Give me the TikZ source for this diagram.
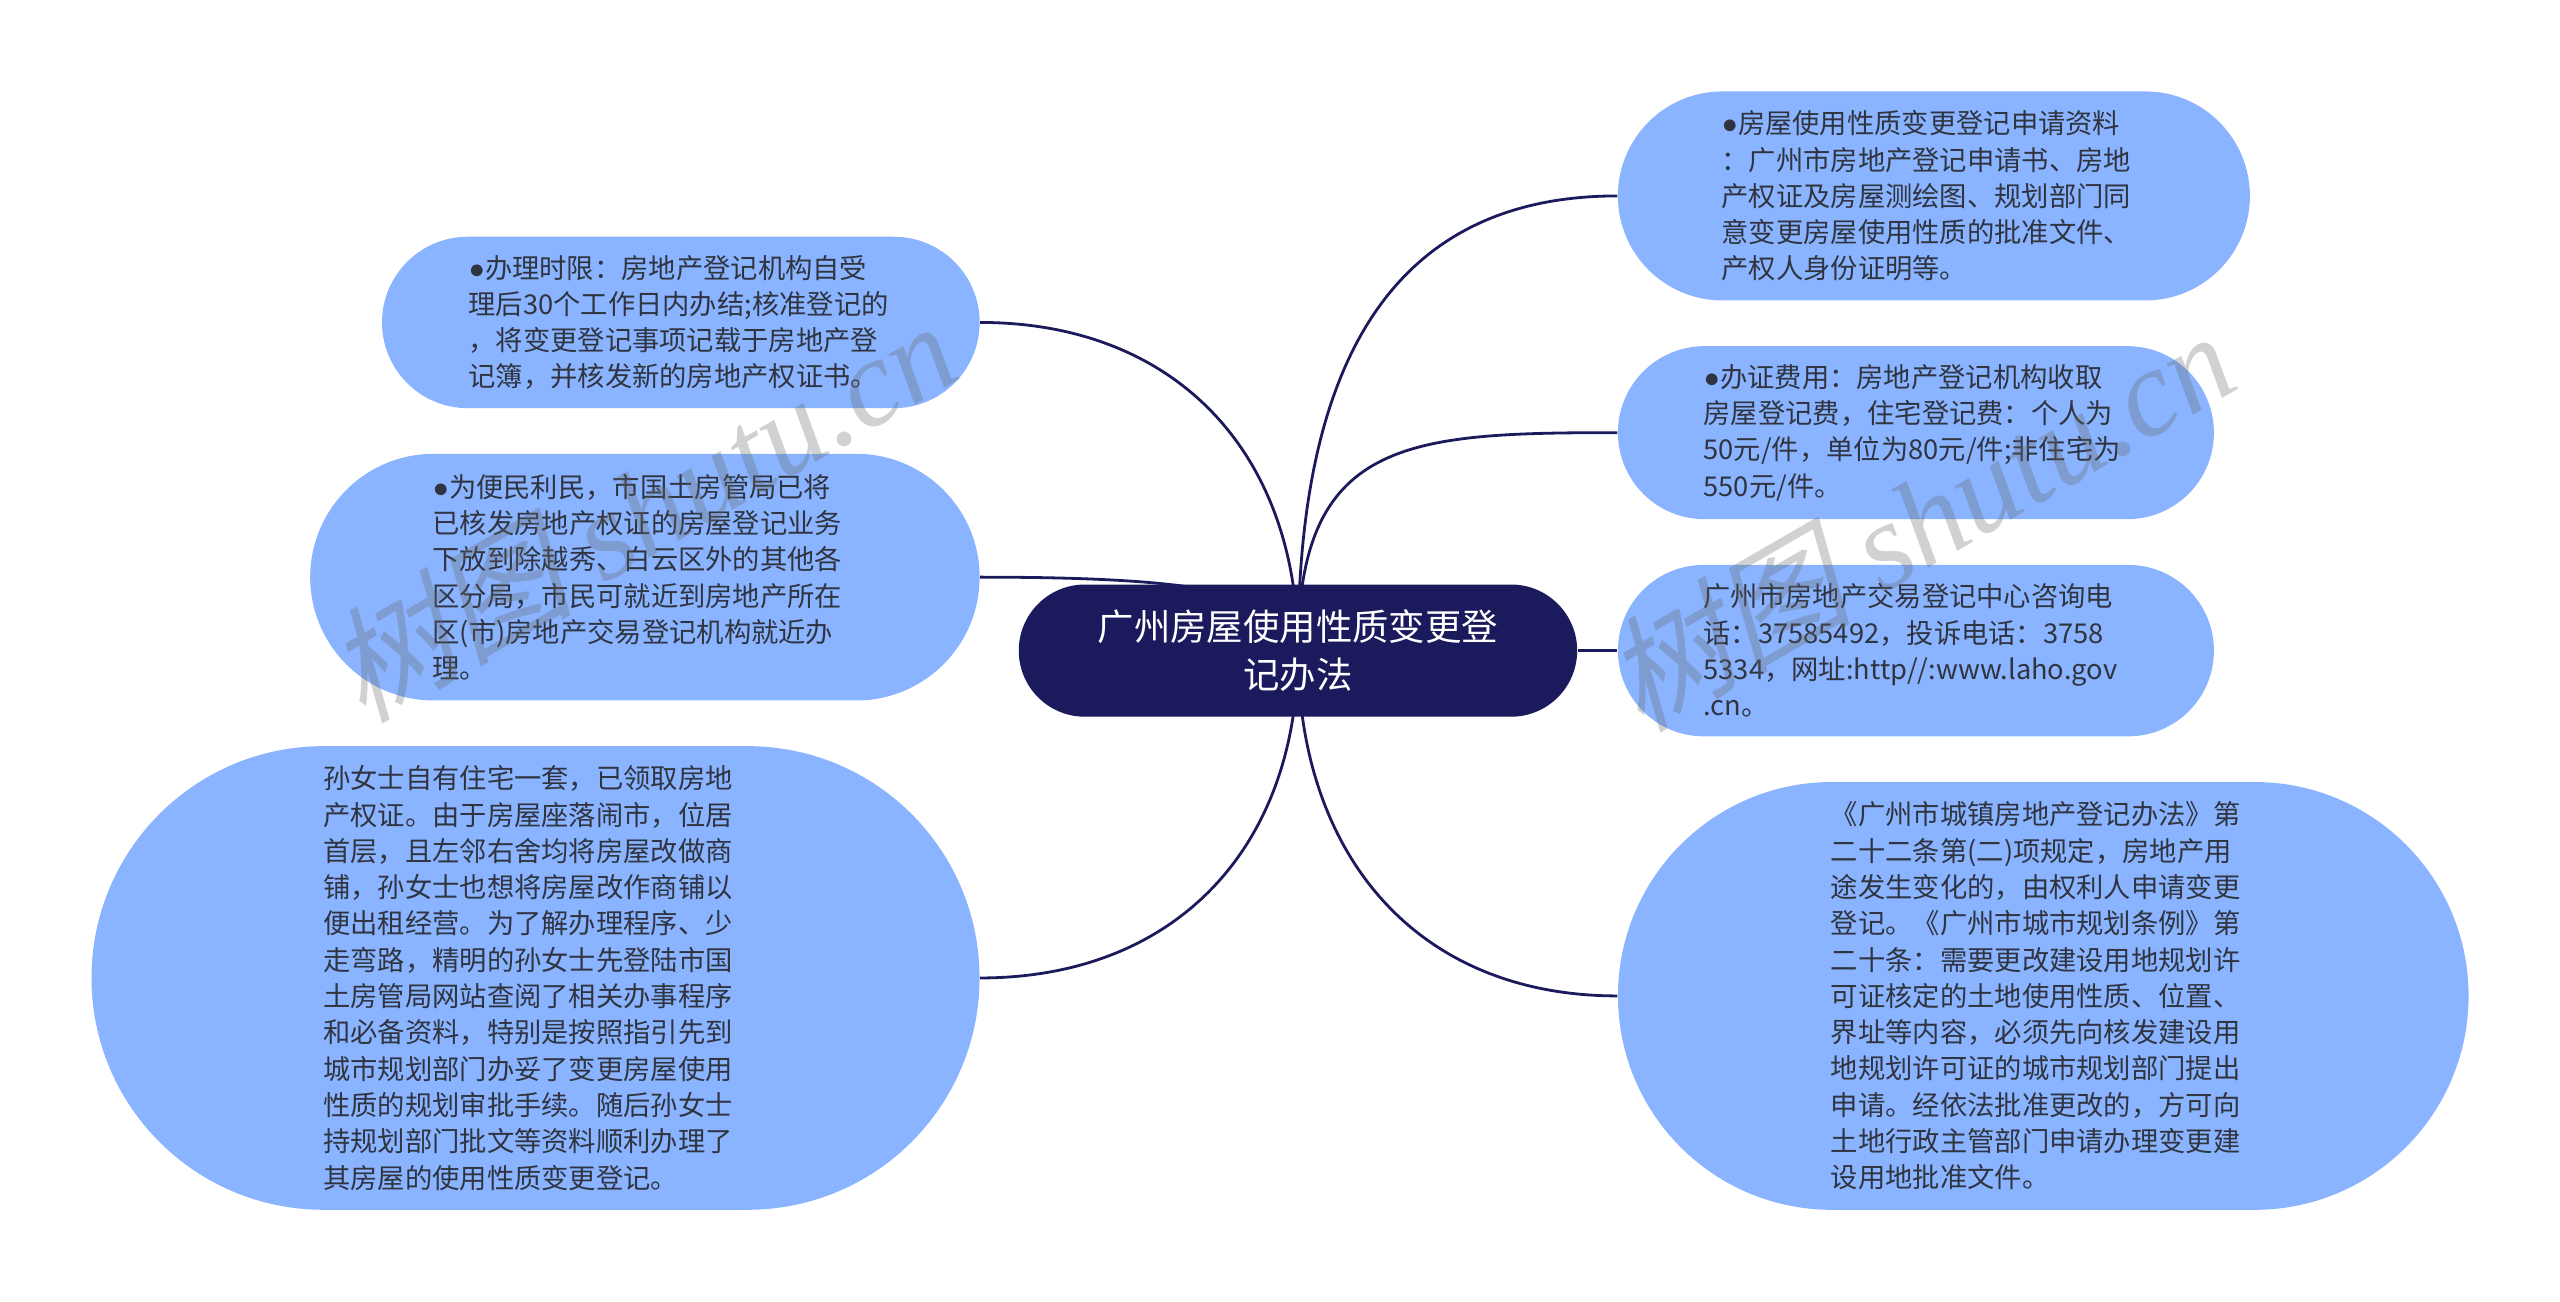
\documentclass[tikz,border=0pt]{standalone}
\usepackage{fontspec}
\setmainfont{Noto Sans CJK SC}
\newfontfamily\dotfont{Liberation Sans}
\newfontfamily\markcjk[FakeSlant=0.25]{Noto Sans CJK SC}
\newfontfamily\marklat{Liberation Serif Italic}
\usetikzlibrary{shapes.misc,backgrounds}
\definecolor{navy}{HTML}{1A1A5C}
\definecolor{bubblefill}{HTML}{8AB4FF}
\definecolor{bodytext}{HTML}{2F3440}
\newcommand{\bul}{{\dotfont ●}}
\newcommand{\dou}{\symbol{"FF0C}}
\newcommand{\mao}{\symbol{"FF1A}}

\begin{document}
\begin{tikzpicture}[x=0.8163pt,y=-0.8163pt,semithick]
   \tikzstyle{bubble}=[rounded rectangle,fill=bubblefill,text=bodytext,inner sep=0pt,
     text width=212.3pt,align=left,font=\fontsize{13.65}{18.15}\selectfont]
   \tikzstyle{topic}=[rounded rectangle,fill=navy,text=white,inner sep=0pt,
     text width=212pt,align=center,font=\fontsize{18.2}{23.7}\selectfont]
   \tikzstyle{link}=[draw=navy,line width=1.4pt]
   \tikzstyle{stamp}=[text=black!60,opacity=0.3,rotate=30,inner sep=0pt]
   \useasboundingbox (0,0) rectangle (1568,797);

   \node[topic,minimum width=279.2pt,minimum height=66.1pt] (title) at (795,398.5)
     {广州房屋使用性质变更登\\记办法};

   \node[bubble,minimum width=298.8pt,minimum height=85.7pt] (limit) at (417,197.5)
     {\bul 办理时限\mao 房地产登记机构自受\\理后30个工作日内办结;核准登记的\\\dou 将变更登记事项记载于房地产登\\记簿\dou 并核发新的房地产权证书。};
   \node[bubble,minimum width=334.7pt,minimum height=123.3pt] (local) at (395,353.5)
     {\bul 为便民利民\dou 市国土房管局已将\\已核发房地产权证的房屋登记业务\\下放到除越秀、白云区外的其他各\\区分局\dou 市民可就近到房地产所在\\区(市)房地产交易登记机构就近办\\理。};
   \node[bubble,minimum width=444pt,minimum height=231.8pt] (case) at (328,599)
     {孙女士自有住宅一套\dou 已领取房地\\产权证。由于房屋座落闹市\dou 位居\\首层\dou 且左邻右舍均将房屋改做商\\铺\dou 孙女士也想将房屋改作商铺以\\便出租经营。为了解办理程序、少\\走弯路\dou 精明的孙女士先登陆市国\\土房管局网站查阅了相关办事程序\\和必备资料\dou 特别是按照指引先到\\城市规划部门办妥了变更房屋使用\\性质的规划审批手续。随后孙女士\\持规划部门批文等资料顺利办理了\\其房屋的使用性质变更登记。};
   \node[bubble,minimum width=316pt,minimum height=104.5pt] (docs) at (1184.5,120)
     {\bul 房屋使用性质变更登记申请资料\\\mao 广州市房地产登记申请书、房地\\产权证及房屋测绘图、规划部门同\\意变更房屋使用性质的批准文件、\\产权人身份证明等。};
   \node[bubble,minimum width=298pt,minimum height=86.5pt] (fees) at (1173.5,265)
     {\bul 办证费用\mao 房地产登记机构收取\\房屋登记费\dou 住宅登记费\mao 个人为\\50元/件\dou 单位为80元/件;非住宅为\\550元/件。};
   \node[bubble,minimum width=298pt,minimum height=85.7pt] (phone) at (1173.5,398.5)
     {广州市房地产交易登记中心咨询电\\话\mao 37585492\dou 投诉电话\mao 3758\\5334\dou 网址:http//:www.laho.gov\\.cn。};
   \node[bubble,minimum width=425.3pt,minimum height=213.9pt] (rules) at (1251.5,610)
     {《广州市城镇房地产登记办法》第\\二十二条第(二)项规定\dou 房地产用\\途发生变化的\dou 由权利人申请变更\\登记。《广州市城市规划条例》第\\二十条\mao 需要更改建设用地规划许\\可证核定的土地使用性质、位置、\\界址等内容\dou 必须先向核发建设用\\地规划许可证的城市规划部门提出\\申请。经依法批准更改的\dou 方可向\\土地行政主管部门申请办理变更建\\设用地批准文件。};

   \begin{scope}[on background layer]
   \path[link]
     (title.center)  edge  [out=90,in=0,looseness=1.1]    (limit.east)
     (title.center)  edge  [out=90,in=0,out looseness=0.46,in looseness=1.66]    (local.east)
     (title.center)  edge  [out=-90,in=0,looseness=1.1]   (case.east)
     (title.center)  edge  [out=90,in=180,looseness=1.15] (docs.west)
     (title.center)  edge  [out=90,in=180,looseness=1.4]  (fees.west)
     (title.east)    edge                                 (phone.west)
     (title.center)  edge  [out=-90,in=180,looseness=1.1] (rules.west);
   \end{scope}

   \node[stamp,font=\fontsize{62}{62}\selectfont] (markleft) at (392,312)
     {\markcjk 树图\marklat\ shutu.cn};
   \node[stamp,font=\fontsize{62}{62}\selectfont] (markright) at (1175,318)
     {\markcjk 树图\marklat\ shutu.cn};
\end{tikzpicture}
\end{document}
